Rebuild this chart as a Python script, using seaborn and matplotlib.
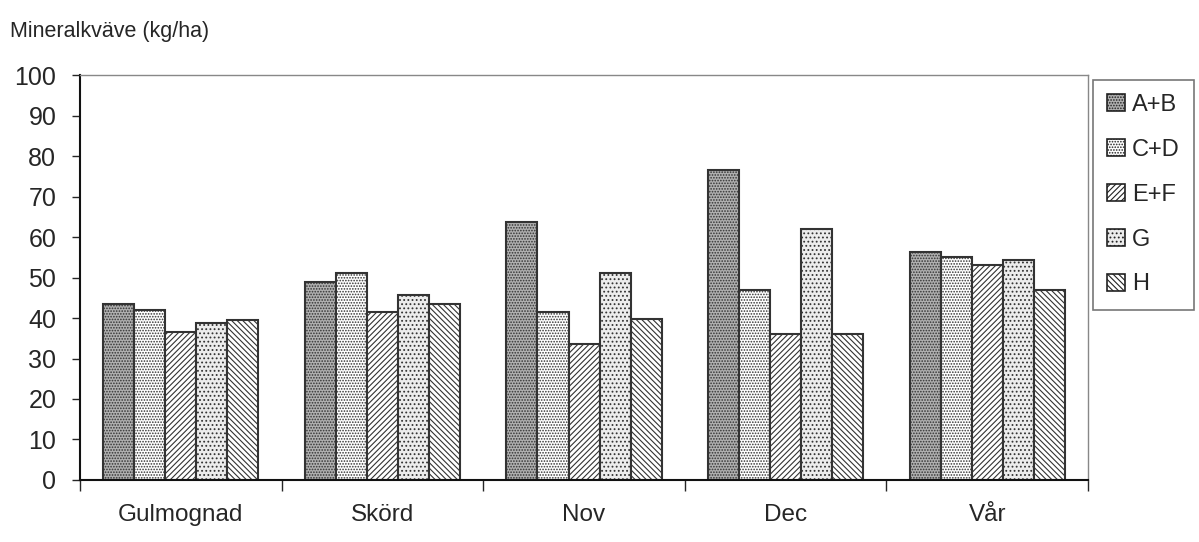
import matplotlib
matplotlib.use("Agg")
import matplotlib.pyplot as plt
import seaborn as sns
import pandas as pd
import numpy as np
from matplotlib.patches import Patch

periods = ["Gulmognad", "Skörd", "Nov", "Dec", "Vår"]
series = ["A+B", "C+D", "E+F", "G", "H"]
ab = [43.5, 49.0, 63.7, 76.5, 56.3]
cd = [42.0, 51.0, 41.5, 47.0, 55.0]
ef = [36.5, 41.5, 33.6, 36.0, 53.0]
g = [38.7, 45.7, 51.0, 62.0, 54.2]
h = [39.4, 43.5, 39.8, 36.0, 47.0]

values = {"A+B": ab, "C+D": cd, "E+F": ef, "G": g, "H": h}
rows = []
for s in series:
    for p, v in zip(periods, values[s]):
        rows.append({"period": p, "serie": s, "value": v})
df = pd.DataFrame(rows)

sns.set_style("white")
plt.rcParams["font.family"] = ["Liberation Sans", "DejaVu Sans"]
plt.rcParams["hatch.linewidth"] = 0.8

fig = plt.figure(figsize=(11.99, 5.42), dpi=100)
ax = fig.add_axes([0.0667, 0.1144, 0.8408, 0.7472])

styles = {
    "A+B": dict(fc="#b0b0b0", hatch="......"),
    "C+D": dict(fc="#ffffff", hatch="......"),
    "E+F": dict(fc="#ffffff", hatch="//////"),
    "G": dict(fc="#ececec", hatch="...."),
    "H": dict(fc="#ffffff", hatch="\\\\\\\\\\\\"),
}

sns.barplot(data=df, x="period", y="value", hue="serie", order=periods,
            hue_order=series, ax=ax, width=0.77, gap=0, legend=False,
            edgecolor="#222222", linewidth=1.5, errorbar=None)

for i, container in enumerate(ax.containers):
    st = styles[series[i]]
    for bar in container:
        bar.set_facecolor(st["fc"])
        bar.set_hatch(st["hatch"])
        bar.set_edgecolor("#333333")

ax.set_ylim(0, 100)
ax.set_xlim(-0.5, 4.5)
ax.set_yticks(range(0, 101, 10))
ax.tick_params(axis="y", labelsize=18, length=6, width=1, direction="out", pad=11, left=True)
ax.set_xticks(range(5))
ax.set_xticklabels(periods, fontsize=17.5)
ax.tick_params(axis="x", which="major", length=0, pad=17)
ax.set_xticks(np.arange(-0.5, 4.6, 1.0), minor=True)
ax.tick_params(axis="x", which="minor", length=8, width=1, direction="out", bottom=True)
ax.set_xlabel("")
ax.set_ylabel("")

for side in ["left", "bottom"]:
    ax.spines[side].set_color("#111111")
    ax.spines[side].set_linewidth(1.5)
for side in ["top", "right"]:
    ax.spines[side].set_color("#888888")
    ax.spines[side].set_linewidth(1.0)

fig.text(0.008, 0.942, "Mineralkväve (kg/ha)", fontsize=15.5, ha="left", va="center")

handles = [Patch(facecolor=styles[s]["fc"], hatch=styles[s]["hatch"], edgecolor="#222222",
                 linewidth=1.2, label=s) for s in series]
leg = fig.legend(handles=handles, loc="upper left", bbox_to_anchor=(0.9116, 0.853),
                 fontsize=17, frameon=True, fancybox=False, handlelength=0.75,
                 handleheight=0.75, handletextpad=0.3, labelspacing=0.97,
                 borderpad=0.6, borderaxespad=0)
leg.get_frame().set_edgecolor("#555555")
leg.get_frame().set_linewidth(1.2)

fig.savefig("out.png", dpi=100)
